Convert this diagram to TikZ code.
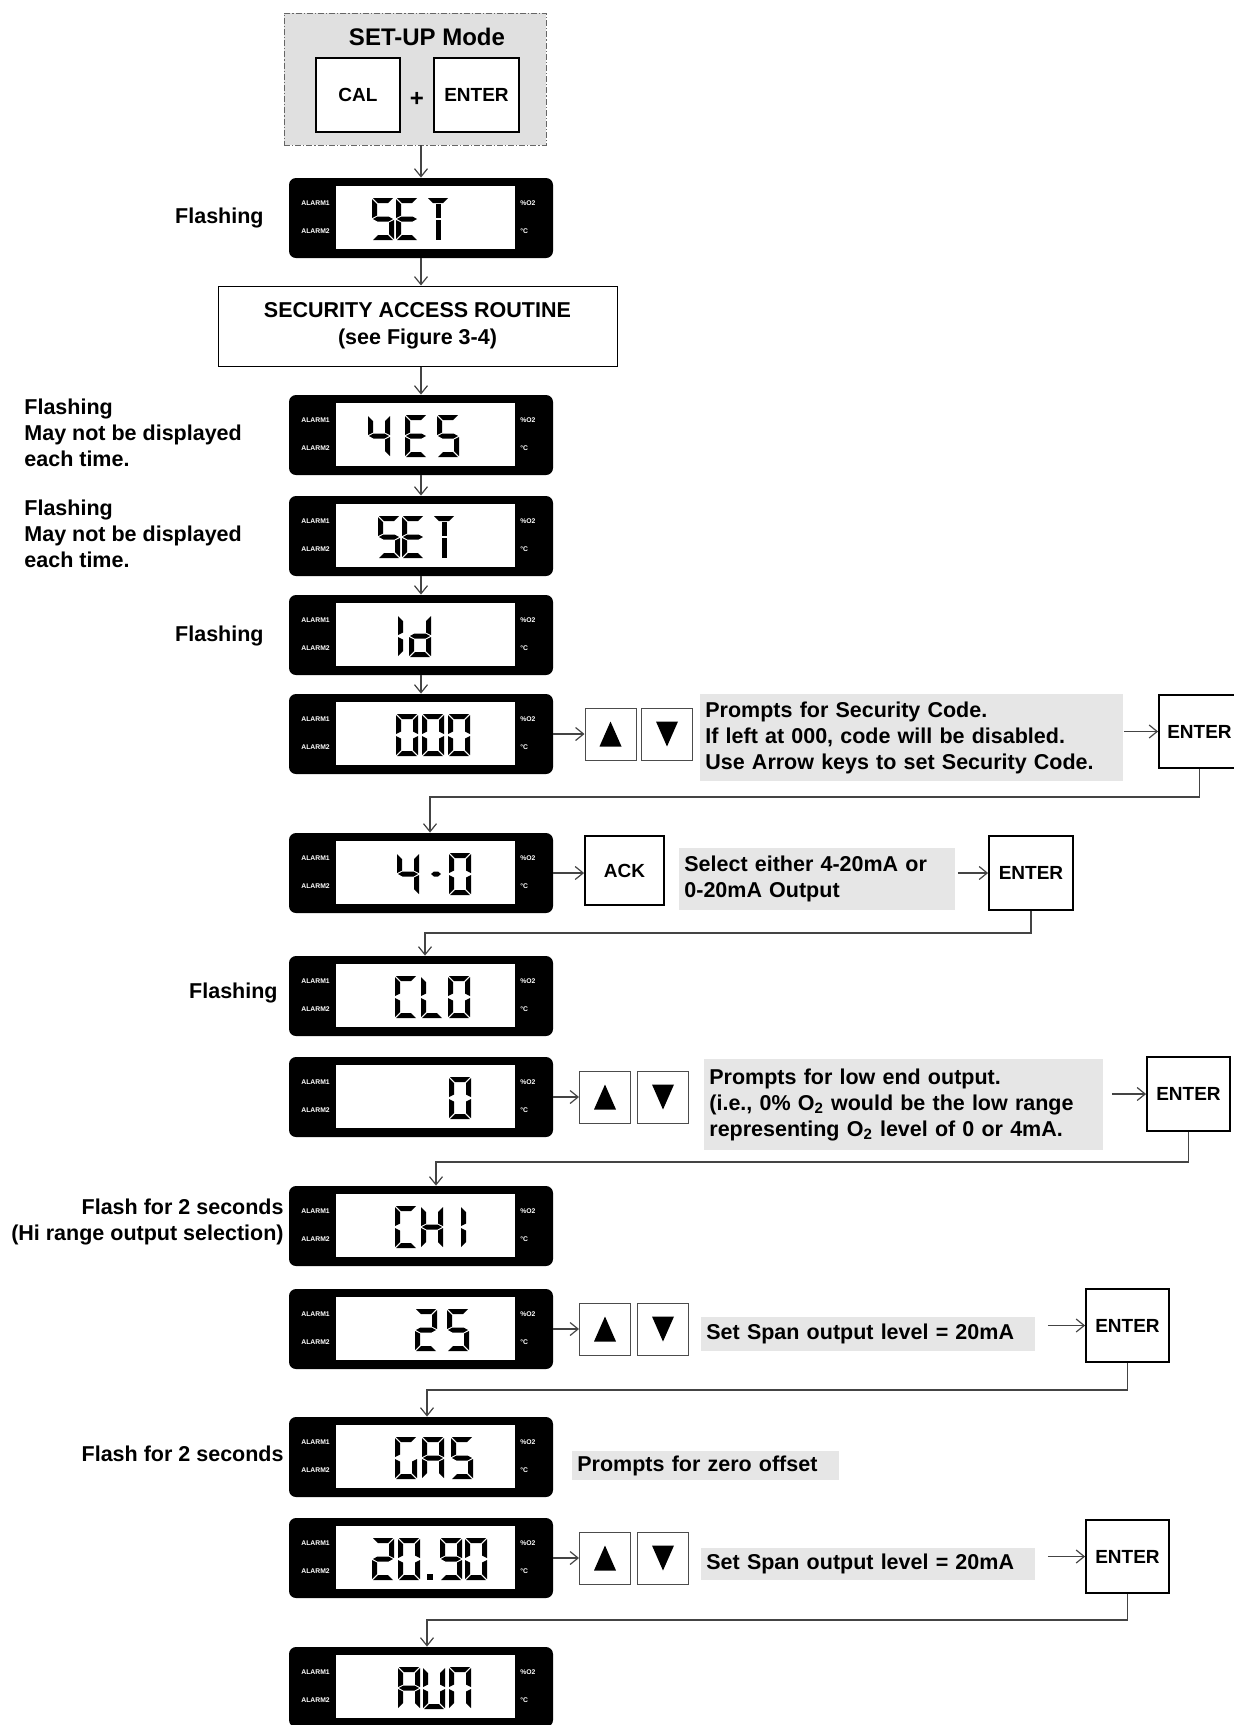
\documentclass[tikz,border=0pt]{standalone}
\usepackage{fontspec}
\setmainfont{Liberation Sans}
\usetikzlibrary{arrows.meta}
\definecolor{panelgray}{HTML}{E0E0E0}
\definecolor{notegray}{HTML}{E6E6E6}
\definecolor{wiregray}{HTML}{444444}

% seven-segment cell, 22 x 42 px, y down
\newcommand{\lcdsega}{(1,0) -- (21,0) -- (16,5) -- (6,5) -- cycle}
\newcommand{\lcdsegb}{(22,1) -- (22,20) -- (17,17.5) -- (17,6) -- cycle}
\newcommand{\lcdsegc}{(22,22) -- (22,41) -- (17,36) -- (17,24.5) -- cycle}
\newcommand{\lcdsegd}{(1,42) -- (21,42) -- (16,37) -- (6,37) -- cycle}
\newcommand{\lcdsege}{(0,22) -- (0,41) -- (5,36) -- (5,24.5) -- cycle}
\newcommand{\lcdsegf}{(0,1) -- (0,20) -- (5,17.5) -- (5,6) -- cycle}
\newcommand{\lcdsegg}{(1,21) -- (5.5,18.5) -- (16.5,18.5) -- (21,21) -- (16.5,23.5) -- (5.5,23.5) -- cycle}
\newcommand{\lcdsegh}{(8.5,6) -- (13.5,6) -- (13.5,20) -- (8.5,20) -- cycle}
\newcommand{\lcdsegi}{(8.5,22) -- (13.5,22) -- (13.5,42) -- (8.5,42) -- cycle}
\newcommand{\lcdsegn}{(6,21) -- (9,18.5) -- (13,18.5) -- (16,21) -- (13,23.5) -- (9,23.5) -- cycle}
\newcommand{\lcdsegp}{(0,36) -- (6,36) -- (6,42) -- (0,42) -- cycle}
\newcommand{\fillseg}[1]{\expandafter\expandafter\expandafter\fill\csname lcdseg#1\endcsname;}
\def\drawsegs#1{\ifx#1\relax\else\fillseg{#1}\expandafter\drawsegs\fi}

\tikzset{
  every node/.style={font=\bfseries\fontsize{10.75}{13}\selectfont, inner sep=0pt},
  flow/.style={draw=wiregray, line width=0.6pt, -{Straight Barb[length=4pt,width=6.5pt]}},
  lcdbody/.style={fill=black, rounded corners=3.5pt, minimum width=132pt, minimum height=40pt},
  lcdtag/.style={anchor=west, text=white, font=\bfseries\fontsize{3.4}{4}\selectfont},
  keybtn/.style={draw, line width=0.9pt, fill=white, font=\bfseries\fontsize{9.5}{11}\selectfont},
  arrowkey/.style={draw=black!70, line width=0.5pt, fill=white, minimum width=25.5pt, minimum height=26pt},
  upkey/.style={arrowkey, path picture={\fill[black] ([yshift=6.25pt]path picture bounding box.center) -- ++(-5.5pt,-12.5pt) -- ++(11pt,0pt) -- cycle;}},
  downkey/.style={arrowkey, path picture={\fill[black] ([yshift=-6.25pt]path picture bounding box.center) -- ++(-5.5pt,12.5pt) -- ++(11pt,0pt) -- cycle;}},
  notebox/.style={fill=notegray, anchor=west, align=left, inner xsep=2.5pt},
  sidenote/.style={align=left, anchor=west},
}

% display panel: name, top y, cells x/segments
\newcommand{\lcdpanel}[3]{%
  \node[lcdbody] (#1) at (421,#2+40) {};
  \fill[white] (336,#2+8) rectangle (515,#2+71);
  \node[lcdtag] (#1-a1) at (301,#2+25) {ALARM1};
  \node[lcdtag] (#1-a2) at (301,#2+53) {ALARM2};
  \node[lcdtag] (#1-u1) at (520,#2+25) {\%O2};
  \node[lcdtag] (#1-u2) at (520,#2+53) {°C};
  \foreach \cx/\segs in {#3}{%
    \begin{scope}[shift={(\cx,#2+20)}]
      \expandafter\drawsegs\segs\relax
    \end{scope}}%
}

\begin{document}
\begin{tikzpicture}[x=0.5pt,y=-0.5pt]
  \useasboundingbox (0,0) rectangle (1233,1725);

  % set-up keys
  \node[draw=black!60, fill=panelgray, line width=0.4pt,
        dash pattern=on 3pt off 1pt on 0.6pt off 1pt,
        minimum width=131pt, minimum height=66pt] (setup) at (415,79) {};
  \node[font=\bfseries\fontsize{12}{14}\selectfont] (setup-t) at (427,37) {SET-UP Mode};
  \node[keybtn, line width=0.7pt, minimum width=42pt, minimum height=37pt] (cal) at (358,95) {CAL};
  \node[keybtn, line width=0.7pt, minimum width=42.5pt, minimum height=37pt] (calent) at (476.5,95) {ENTER};
  \node[font=\bfseries\fontsize{12}{14}\selectfont] (plus) at (417,99) {+};

  \lcdpanel{lcd1}{178}{372/afgcd,396/afged,427/ahi}
  \node[anchor=east] (lab1) at (264,218) {Flashing};

  \node[draw, line width=0.5pt, minimum width=199.5pt, minimum height=40pt, align=center,
        font=\bfseries\fontsize{10.75}{13.5}\selectfont] (sec) at (417.5,326)
        {SECURITY ACCESS ROUTINE\\(see Figure 3-4)};

  \lcdpanel{lcd2}{395}{368/fgbc,405/afged,437/afgcd}
  \node[sidenote] (lab2) at (24,433) {Flashing\\May not be displayed\\each time.};
  \lcdpanel{lcd3}{496}{378/afgcd,402/afged,433/ahi}
  \node[sidenote] (lab3) at (24,534) {Flashing\\May not be displayed\\each time.};
  \lcdpanel{lcd4}{595}{398/ef,409/bcdeg}
  \node[anchor=east] (lab4) at (264,636) {Flashing};

  \draw[flow] (lcd1.north |- setup.south) -- (lcd1.north);
  \draw[flow] (lcd1.south) -- (lcd1.south |- sec.north);
  \draw[flow] (lcd2.north |- sec.south) -- (lcd2.north);
  \draw[flow] (lcd2.south) -- (lcd3.north);
  \draw[flow] (lcd3.south) -- (lcd4.north);

  % security code
  \lcdpanel{lcd5}{694}{396/abcdef,422/abcdef,448/abcdef}
  \draw[flow] (lcd4.south) -- (lcd5.north);
  \node[upkey] (up5) at (610.5,734) {};
  \node[downkey] (dn5) at (667,734) {};
  \node[notebox, text width=206.5pt, minimum height=43.5pt] (note5) at (700,737.5)
        {Prompts for Security Code.\\If left at 000, code will be disabled.\\Use Arrow keys to set Security Code.};
  \node[keybtn, minimum width=40.5pt, minimum height=36.5pt] (ent5) at (1199.5,731.5) {ENTER};
  \draw[flow] (lcd5.east) -- (lcd5.east -| up5.west);
  \draw[flow] (note5.east |- ent5.west) -- (ent5.west);

  % output type
  \lcdpanel{lcd6}{833}{397/fgbc,425/n,449/abcdef}
  \draw[flow] (ent5.south) -- ++(0,28) -| ([xshift=4.5pt]lcd6.north);
  \node[keybtn, minimum width=39.5pt, minimum height=34.5pt] (ack) at (624.5,870.5) {ACK};
  \node[notebox, text width=133pt, minimum height=31pt] (note6) at (679,879)
        {Select either 4-20mA or\\0-20mA Output};
  \node[keybtn, minimum width=42pt, minimum height=37pt] (ent6) at (1031,873) {ENTER};
  \draw[flow] (lcd6.east) -- (lcd6.east -| ack.west);
  \draw[flow] ([xshift=1pt]note6.east |- ent6.west) -- (ent6.west);

  \lcdpanel{lcd7}{956}{395/afed,421/fed,448/abcdef}
  \node[anchor=east] (lab7) at (278,993) {Flashing};
  \draw[flow] (ent6.south) -- ++(0,22) -| ([xshift=2pt]lcd7.north);

  % low end
  \lcdpanel{lcd8}{1057}{449/abcdef}
  \node[upkey] (up8) at (605,1097) {};
  \node[downkey] (dn8) at (663,1097) {};
  \node[notebox, text width=194.5pt, minimum height=45.5pt] (note8) at (704,1104.5)
        {Prompts for low end output.\\(i.e., 0\% O\textsubscript{2} would be the low range\\representing O\textsubscript{2} level of 0 or 4mA.};
  \node[keybtn, minimum width=41.5pt, minimum height=37pt] (ent8) at (1188.5,1094) {ENTER};
  \draw[flow] (lcd8.east) -- (lcd8.east -| up8.west);
  \draw[flow] ([xshift=4pt]note8.east |- ent8.west) -- (ent8.west);

  \lcdpanel{lcd9}{1186}{395/afed,421/febcg,461/ef}
  \node[align=right, anchor=east] (lab9) at (284,1222) {Flash for 2 seconds\\(Hi range output selection)};
  \draw[flow] (ent8.south) -- ++(0,30) -| ([xshift=7.5pt]lcd9.north);

  % span
  \lcdpanel{lcd10}{1289}{415/abged,447/afgcd}
  \node[upkey] (up10) at (605,1329) {};
  \node[downkey] (dn10) at (663,1329) {};
  \node[notebox, text width=162pt, minimum height=17pt] (note10) at (701,1334) {Set Span output level = 20mA};
  \node[keybtn, minimum width=41.5pt, minimum height=36.5pt] (ent10) at (1127.5,1325.5) {ENTER};
  \draw[flow] (lcd10.east) -- (lcd10.east -| up10.west);
  \draw[flow] ([xshift=6pt]note10.east |- ent10.west) -- (ent10.west);

  \lcdpanel{lcd11}{1417}{395/afedc,422/abcefg,451/afgcd}
  \node[anchor=east] (lab11) at (284,1454) {Flash for 2 seconds};
  \node[notebox, text width=128.5pt, minimum height=14.5pt] (note11) at (572,1465.5) {Prompts for zero offset};
  \draw[flow] (ent10.south) -- ++(0,27) -| ([xshift=3pt]lcd11.north);

  % gas value
  \lcdpanel{lcd12}{1518}{372/abged,398/abcdef,427/p,440/abcdfg,465/abcdef}
  \node[upkey] (up12) at (605,1558) {};
  \node[downkey] (dn12) at (663,1558) {};
  \node[notebox, text width=162pt, minimum height=16pt] (note12) at (701,1564) {Set Span output level = 20mA};
  \node[keybtn, minimum width=41.5pt, minimum height=36.5pt] (ent12) at (1127.5,1556.5) {ENTER};
  \draw[flow] (lcd12.east) -- (lcd12.east -| up12.west);
  \draw[flow] ([xshift=6pt]note12.east |- ent12.west) -- (ent12.west);

  \lcdpanel{lcd13}{1647}{398/abcefg,423/bcdef,449/abcef}
  \draw[flow] (ent12.south) -- ++(0,26) -| ([xshift=3pt]lcd13.north);
\end{tikzpicture}
\end{document}
